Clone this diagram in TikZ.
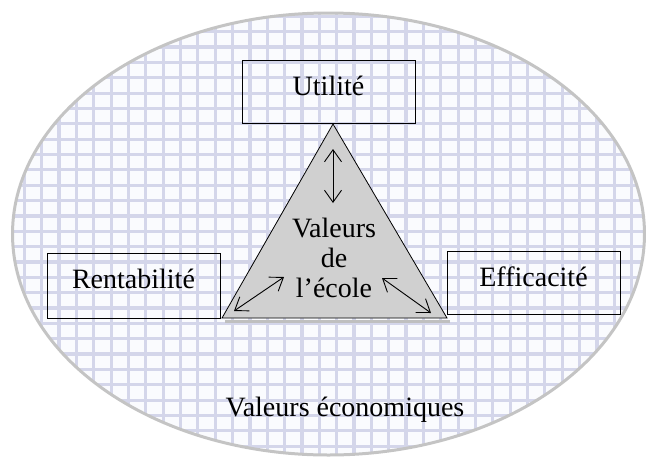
\documentclass[tikz,border=0pt]{standalone}
\usepackage{fontspec}
\setmainfont{Liberation Serif}
\usetikzlibrary{arrows.meta}
\usetikzlibrary{calc}
\usetikzlibrary{positioning}

\definecolor{grid_line}{RGB}{212,214,234}
\definecolor{grid_back}{RGB}{250,251,254}
\definecolor{rim_gray}{RGB}{196,196,196}
\definecolor{tri_gray}{RGB}{208,208,208}

\begin{document}
\begin{tikzpicture}[x=1pt, y=-1pt,
        nodes={font=\fontsize{28}{30}\selectfont},
        box_style/.style={rectangle, draw=black, line width=0.9pt,
          minimum width=173pt, minimum height=63pt, inner sep=0pt,
          text height=21pt, text depth=15pt},
        grid_style/.style={draw=grid_line, line width=3.2pt},
        arrow_style/.style={{Straight Barb[length=12pt, width=17pt]}-{Straight Barb[length=12pt, width=17pt]}, line width=0.9pt}]

      \useasboundingbox (0,0) rectangle (646,456);

      % ellipse with the grid pattern
      \begin{scope}
        \clip (328.5,234) ellipse [x radius=316pt, y radius=221pt];
        \fill[grid_back] (0,0) rectangle (646,456);
        \foreach \i in {0,...,37} {
          \draw[grid_style] ({7+17.35*\i},0) -- ++(0,456);
        }
        \foreach \j in {0,...,30} {
          \draw[grid_style] (0,{1+15.35*\j}) -- ++(646,0);
        }
      \end{scope}
      \draw[rim_gray, line width=3pt] (328.5,234) ellipse [x radius=316pt, y radius=221pt];

      % triangle
      \coordinate (apex) at (333,124);
      \coordinate (base_left) at (222,318);
      \coordinate (base_right) at (447,318);
      \draw[black!25, line width=3pt] ($(base_left)+(3,3)$) -- ($(base_right)+(3,3)$);
      \draw[fill=tri_gray, line width=0.8pt] (apex) -- (base_right) -- (base_left) -- cycle;

      \node[box_style] (utilite) at (328.5,92) {Utilité};
      \node[box_style, minimum height=65pt] (rentabilite) at (133.5,285.5) {Rentabilité};
      \node[box_style] (efficacite) at (533.5,283) {Efficacité};
      \node[align=center, inner sep=0pt] (ecole) at (334,258) {Valeurs\\de\\l’école};
      \node (economiques) at (345,410) {Valeurs économiques};

      \coordinate (top_a) at (333,149);
      \coordinate (top_b) at (333,203);
      \coordinate (left_a) at (234,311);
      \coordinate (left_b) at (284,277);
      \coordinate (right_a) at (382,278);
      \coordinate (right_b) at (431,313);

      \draw[arrow_style] (top_a) -- (top_b);
      \draw[arrow_style] (left_a) -- (left_b);
      \draw[arrow_style] (right_a) -- (right_b);
    \end{tikzpicture}
\end{document}
